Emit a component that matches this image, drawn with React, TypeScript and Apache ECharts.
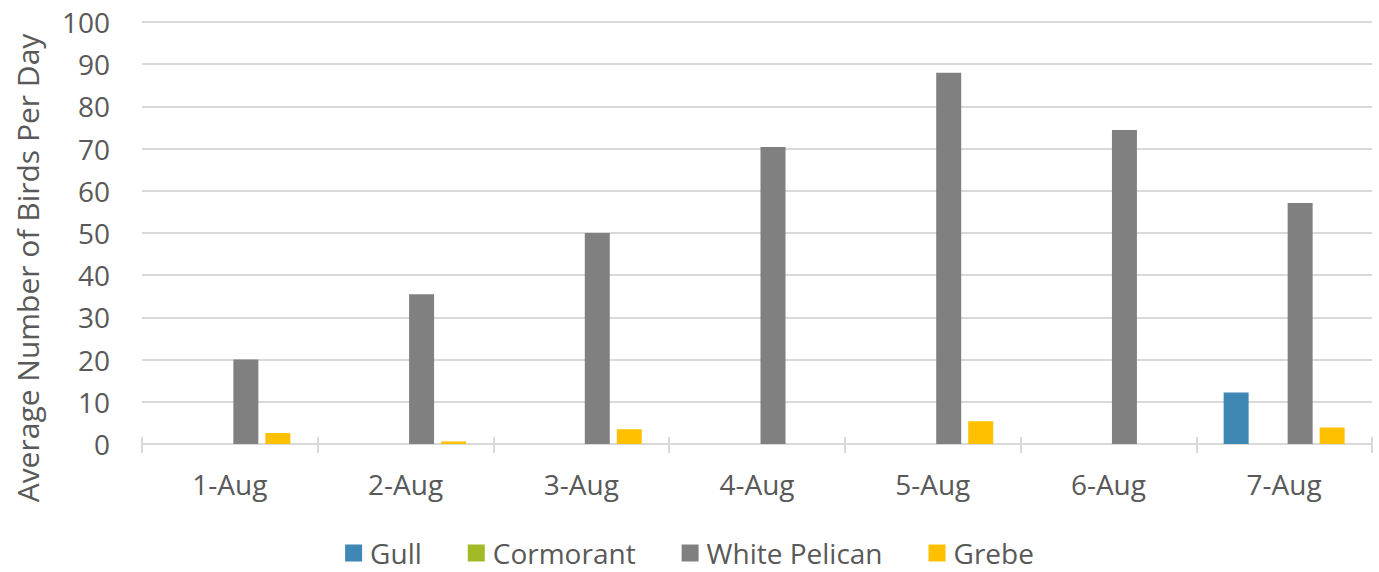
import React, { useEffect, useRef } from "react";
import * as echarts from "echarts";

const categories = ["1-Aug", "2-Aug", "3-Aug", "4-Aug", "5-Aug", "6-Aug", "7-Aug"];
const gull = [0, 0, 0, 0, 0, 0, 12.2];
const cormorant = [0, 0, 0, 0, 0, 0, 0];
const whitePelican = [20, 35.5, 50, 70.4, 88, 74.4, 57.1];
const grebe = [2.6, 0.6, 3.5, 0, 5.4, 0, 3.9];
const yTicks = [0, 10, 20, 30, 40, 50, 60, 70, 80, 90, 100];

const FONT = "'Open Sans', 'Noto Sans', sans-serif";
const TEXT = "#595959";
const LINE = "#d9d9d9";

export default function App() {
  const ref = useRef<HTMLDivElement>(null);
  useEffect(() => {
    document.body.style.margin = "0";
    if (!ref.current) return;
    const chart = echarts.init(ref.current, undefined, { renderer: "svg" });
    const mk = (name: string, data: number[], color: string) => ({
      name,
      type: "bar",
      data,
      barWidth: 25,
      barGap: "28%",
      itemStyle: { color },
    });
    chart.setOption({
      animation: false,
      textStyle: { fontFamily: FONT },
      grid: { left: 142, right: 7, top: 22, bottom: 128, containLabel: false },
      legend: {
        left: "center",
        top: 534,
        itemWidth: 17,
        itemHeight: 17,
        itemGap: 46,
        icon: "rect",
        textStyle: { fontFamily: FONT, fontSize: 28, color: TEXT, padding: [0, 0, 0, 3] },
        data: ["Gull", "Cormorant", "White Pelican", "Grebe"],
      },
      graphic: [
        {
          type: "text",
          x: 27,
          y: 268,
          rotation: Math.PI / 2,
          style: {
            text: "Average Number of Birds Per Day",
            fontFamily: FONT,
            fontSize: 30,
            fill: TEXT,
            align: "center",
            verticalAlign: "middle",
          },
        },
      ],
      xAxis: [
        {
          type: "category",
          data: categories,
          axisLine: { show: true, lineStyle: { color: LINE, width: 2 } },
          axisTick: { show: true, length: 9, lineStyle: { color: LINE, width: 2 } },
          axisLabel: { fontFamily: FONT, fontSize: 28, color: TEXT, margin: 26 },
        },
        {
          type: "category",
          data: categories,
          position: "bottom",
          axisLine: { show: false },
          axisTick: { show: true, inside: true, length: 7, lineStyle: { color: LINE, width: 2 } },
          axisLabel: { show: false },
        },
      ],
      yAxis: {
        type: "value",
        min: yTicks[0],
        max: yTicks[yTicks.length - 1],
        interval: 10,
        axisLine: { show: false },
        axisTick: { show: false },
        axisLabel: { fontFamily: FONT, fontSize: 28, color: TEXT, margin: 32 },
        splitLine: { lineStyle: { color: LINE, width: 2 } },
      },
      series: [
        mk("Gull", gull, "#3F88B5"),
        mk("Cormorant", cormorant, "#A2BA25"),
        mk("White Pelican", whitePelican, "#808080"),
        mk("Grebe", grebe, "#FFC000"),
      ],
    });
    return () => chart.dispose();
  }, []);
  return <div ref={ref} style={{ width: 1379, height: 572 }} />;
}
